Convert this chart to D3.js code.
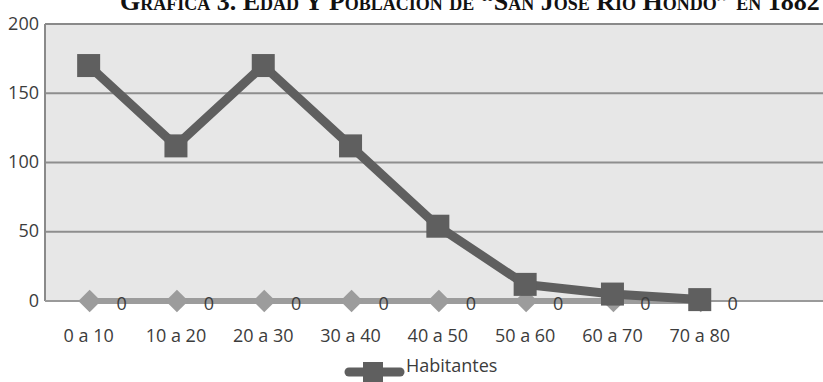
<!DOCTYPE html>
<html>
<head>
<meta charset="utf-8">
<script src="https://cdn.jsdelivr.net/npm/d3@7"></script>
<style>
  html, body { margin: 0; padding: 0; background: #fff; }
  svg { display: block; }
  .tick text { font-family: "Open Sans", sans-serif; }
</style>
</head>
<body>
<svg id="chart" width="823" height="382"></svg>
<script>
// Age groups and population counts
const categories = ["0 a 10", "10 a 20", "20 a 30", "30 a 40", "40 a 50", "50 a 60", "60 a 70", "70 a 80"];
const habitantes = [170, 112, 170, 112, 54, 12, 5, 1];
const serieCero = [0, 0, 0, 0, 0, 0, 0, 0];
const yTicks = [0, 50, 100, 150, 200];
const titulo = "Gráfica 3. Edad Y Población de \u201CSan José Río Hondo\u201D en 1882";

const W = 823, H = 382;
const plot = { left: 45, right: 823, top: 24, bottom: 301 };
const step = 87.3;

const svg = d3.select("#chart");

const x = d3.scaleBand()
  .domain(categories)
  .range([plot.left, plot.left + step * categories.length])
  .padding(0);
const cx = d => x(d) + x.bandwidth() / 2;

const y = d3.scaleLinear().domain([0, 200]).range([plot.bottom, plot.top]);

// Title (runs past the top edge of the frame)
svg.append("text")
  .attr("x", 120)
  .attr("y", 10)
  .attr("font-family", "Liberation Serif, serif")
  .attr("font-weight", "bold")
  .attr("font-size", 26)
  .style("font-variant", "small-caps")
  .attr("fill", "#111")
  .text(titulo);

// Plot background
svg.append("rect")
  .attr("x", plot.left).attr("y", plot.top)
  .attr("width", plot.right - plot.left + 10)
  .attr("height", plot.bottom - plot.top)
  .attr("fill", "#e7e7e7");

// Gridlines
svg.append("g")
  .selectAll("line")
  .data(yTicks.filter(t => t > 0 && t < 200))
  .join("line")
  .attr("x1", plot.left).attr("x2", W)
  .attr("y1", d => y(d)).attr("y2", d => y(d))
  .attr("stroke", "#8e8e8e").attr("stroke-width", 2);

// Frame: top and left
svg.append("line")
  .attr("x1", plot.left).attr("x2", W)
  .attr("y1", y(200)).attr("y2", y(200))
  .attr("stroke", "#8a8a8a").attr("stroke-width", 2);
svg.append("line")
  .attr("x1", plot.left).attr("x2", plot.left)
  .attr("y1", y(200)).attr("y2", y(0))
  .attr("stroke", "#8a8a8a").attr("stroke-width", 2);
// Baseline
svg.append("line")
  .attr("x1", plot.left).attr("x2", W)
  .attr("y1", y(0)).attr("y2", y(0))
  .attr("stroke", "#9a9a9a").attr("stroke-width", 2);

// Y axis labels
const yAxis = d3.axisLeft(y).tickValues(yTicks).tickSize(0).tickPadding(6);
const gy = svg.append("g")
  .attr("transform", `translate(${plot.left},0)`)
  .call(yAxis);
gy.select(".domain").remove();
gy.selectAll("text")
  .attr("font-size", 18)
  .attr("fill", "#3c3c3c")
  .attr("dy", "0.28em");

// X axis labels
const xAxis = d3.axisBottom(x).tickSize(0).tickPadding(0);
const gx = svg.append("g")
  .attr("transform", `translate(0,${plot.bottom})`)
  .call(xAxis);
gx.select(".domain").remove();
gx.selectAll("text")
  .attr("font-size", 18)
  .attr("fill", "#3c3c3c")
  .attr("dy", null)
  .attr("y", 41);

// Zero series: light line with diamonds
const line = d3.line().x((d, i) => cx(categories[i])).y(d => y(d));
svg.append("path")
  .datum(serieCero)
  .attr("d", line)
  .attr("fill", "none")
  .attr("stroke", "#9c9c9c")
  .attr("stroke-width", 6);
svg.append("g")
  .selectAll("path")
  .data(serieCero)
  .join("path")
  .attr("transform", (d, i) => `translate(${cx(categories[i]) + 1},${y(d)}) rotate(45)`)
  .attr("d", "M-8,-8H8V8H-8Z")
  .attr("fill", "#9c9c9c");

// Habitantes: dark line with squares
svg.append("path")
  .datum(habitantes)
  .attr("d", line)
  .attr("fill", "none")
  .attr("stroke", "#5f5f5f")
  .attr("stroke-width", 9)
  .attr("stroke-linejoin", "miter");
svg.append("g")
  .selectAll("rect")
  .data(habitantes)
  .join("rect")
  .attr("x", (d, i) => cx(categories[i]) - 11.5)
  .attr("y", d => y(d) - 11.5)
  .attr("width", 23).attr("height", 23)
  .attr("fill", "#5f5f5f");

// Value labels of the zero series
svg.append("g")
  .selectAll("text")
  .data(serieCero)
  .join("text")
  .attr("x", (d, i) => cx(categories[i]) + 33)
  .attr("y", d => y(d) + 9)
  .attr("text-anchor", "middle")
  .attr("font-family", "Open Sans, sans-serif")
  .attr("font-size", 18)
  .attr("fill", "#3c3c3c")
  .text(d => d);

// Legend
const lg = svg.append("g");
lg.append("line")
  .attr("x1", 349).attr("x2", 400)
  .attr("y1", 372).attr("y2", 372)
  .attr("stroke", "#5f5f5f").attr("stroke-width", 9)
  .attr("stroke-linecap", "round");
lg.append("rect")
  .attr("x", 363).attr("y", 362)
  .attr("width", 20).attr("height", 20)
  .attr("fill", "#5f5f5f");
lg.append("text")
  .attr("x", 406).attr("y", 372)
  .attr("font-family", "Open Sans, sans-serif")
  .attr("font-size", 18)
  .attr("fill", "#3c3c3c")
  .text("Habitantes");
</script>
</body>
</html>
